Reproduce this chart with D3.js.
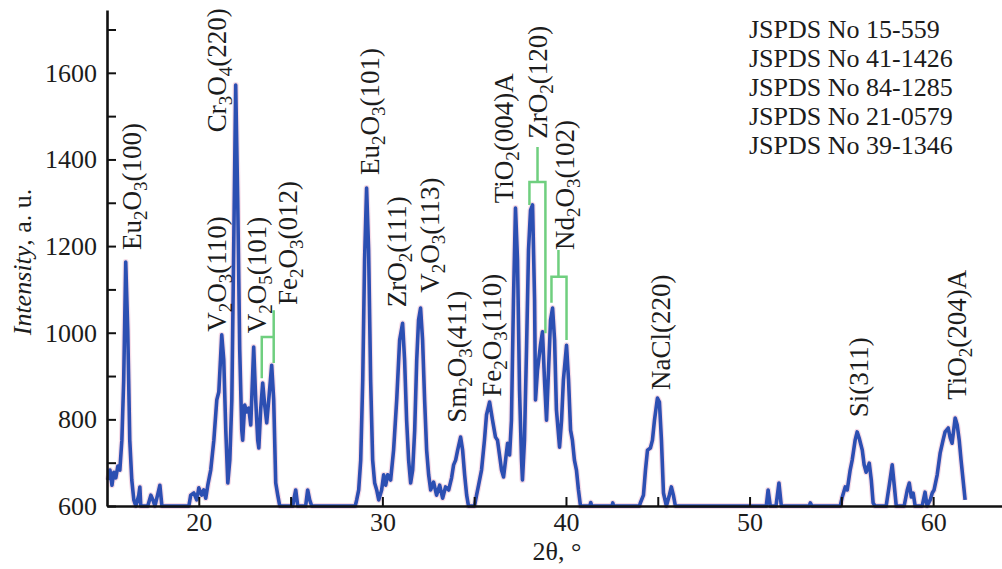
<!DOCTYPE html>
<html lang="en">
<head>
<meta charset="UTF-8">
<title>XRD pattern</title>
<script src="https://cdnjs.cloudflare.com/ajax/libs/d3/7.8.5/d3.min.js"></script>
<style>
  body { margin: 0; background: #fff; }
  text { font-family: "Liberation Serif", "Times New Roman", serif; fill: #1c1c1c; }
</style>
</head>
<body>
<script>
// diffraction pattern, [2theta, intensity]
var pattern = [
  [15.05,660],[15.16,683],[15.27,648],[15.37,678],[15.48,665],[15.59,692],[15.70,683],[15.81,752],[15.91,891],
  [16.02,1163],[16.13,1006],[16.24,752],[16.35,660],[16.46,614],[16.57,600],[16.73,625],[16.79,644],[16.84,600],
  [17.22,600],[17.39,625],[17.50,614],[17.61,600],[17.77,628],[17.88,648],[17.99,600],[19.46,600],[19.56,625],
  [19.73,630],[19.89,614],[20.00,642],[20.16,625],[20.27,637],[20.38,618],[20.49,648],[20.65,683],[20.82,752],
  [20.98,845],[21.09,863],[21.25,995],[21.36,937],[21.47,775],[21.58,653],[21.69,706],[21.80,845],[21.90,1191],
  [22.01,1572],[22.12,1306],[22.23,960],[22.34,775],[22.39,752],[22.50,833],[22.61,817],[22.72,826],[22.83,787],
  [22.99,967],[23.10,845],[23.21,752],[23.27,734],[23.37,822],[23.48,884],[23.59,833],[23.70,792],[23.81,845],
  [23.97,925],[24.08,845],[24.19,653],[24.30,625],[24.41,600],[25.12,600],[25.17,614],[25.28,637],[25.39,600],
  [25.82,600],[25.93,637],[26.04,614],[26.15,600],[28.52,600],[28.60,614],[28.71,637],[28.82,706],[28.93,891],
  [29.03,1168],[29.14,1334],
  [29.25,1191],[29.36,891],[29.47,706],[29.58,653],[29.69,637],[29.80,614],[29.96,637],[30.07,672],[30.18,648],
  [30.29,672],[30.45,660],[30.61,729],[30.78,845],[30.94,983],[31.10,1022],[31.21,937],[31.32,798],[31.43,706],
  [31.54,653],[31.65,683],[31.76,775],[31.87,937],[31.97,1029],[32.08,1057],[32.19,983],[32.30,845],[32.41,729],
  [32.52,672],[32.63,637],[32.79,655],[32.95,625],[33.12,648],[33.28,618],[33.44,644],[33.61,637],[33.77,665],
  [33.88,695],[33.99,706],[34.10,729],[34.26,759],[34.37,729],[34.48,672],[34.59,625],[34.69,600],[35.02,600],
  [35.13,625],[35.24,648],[35.40,683],[35.56,752],[35.67,810],[35.84,840],[36.00,798],[36.16,759],[36.27,752],
  [36.38,718],[36.49,683],[36.60,667],[36.71,706],[36.82,745],[36.93,718],[37.03,798],[37.14,1075],[37.25,1288],
  [37.36,1168],[37.47,868],[37.58,706],[37.63,660],[37.74,752],[37.85,960],[37.96,1191],[38.07,1283],[38.18,1295],
  [38.29,1075],[38.34,845],[38.45,914],[38.61,971],[38.72,1002],[38.83,891],[38.94,798],[39.05,914],[39.16,1029],
  [39.27,1057],[39.38,983],[39.48,822],[39.65,736],[39.76,798],[39.86,891],[40.03,971],[40.14,891],[40.25,775],
  [40.35,752],[40.46,706],[40.57,683],[40.68,637],[40.79,600],[41.30,600],[41.35,608],[41.40,600],[42.50,600],
  [42.55,607],[42.60,600],[44.00,600],[44.05,607],[44.22,625],[44.33,683],[44.44,729],[44.60,734],[44.71,752],
  [44.82,798],[44.98,849],[45.09,840],[45.20,752],[45.31,630],[45.47,600],[45.63,625],[45.74,644],[45.85,625],
  [45.96,600],[50.91,600],[51.01,637],[51.13,600],[51.44,600],[51.60,653],[51.73,600],[53.25,600],[53.31,607],
  [53.40,600],[54.94,600],[55.05,621],[55.21,644],[55.32,637],[55.48,683],[55.59,706],[55.75,752],[55.86,771],
  [55.97,757],[56.14,729],[56.24,695],[56.35,678],[56.52,699],[56.63,660],[56.73,607],[56.84,600],[57.44,600],
  [57.61,648],[57.77,695],[57.88,648],[57.99,600],[58.42,600],[58.59,637],[58.70,653],[58.81,621],[58.91,630],
  [59.02,600],[59.40,600],[59.56,632],[59.67,600],[59.84,614],[59.95,630],[60.05,637],[60.22,672],[60.38,722],
  [60.54,752],[60.65,771],[60.82,780],[60.93,757],[61.03,745],[61.20,803],[61.31,787],[61.42,752],[61.52,706],
  [61.63,660],[61.74,614]
];

// phase labels ("_" = subscript digit) and where each one starts, in [2theta, intensity]
var peakNames = ["Eu_2O_3(100)", "V_2O_3(110)", "Cr_3O_4(220)", "V_2O_5(101)", "Fe_2O_3(012)",
                 "Eu_2O_3(101)", "ZrO_2(111)", "V_2O_3(113)", "Sm_2O_3(411)", "Fe_2O_3(110)",
                 "TiO_2(004)A", "ZrO_2(120)", "Nd_2O_3(102)", "NaCl(220)", "Si(311)", "TiO_2(204)A"];
var peakAt = [[16.84,1191],[21.47,1002],[21.47,1463],[23.65,999],[25.33,1064],
              [29.80,1364],[31.27,1059],[33.06,1092],[34.53,792],[36.44,852],
              [37.14,1299],[38.94,1448],[40.46,1191],[45.69,868],[56.46,805],[61.80,845]];

// green brackets: stem [2theta, top], join level, feet [left 2theta, left end, right 2theta, right end]
var bracketStem = [[24.08,1052],[38.45,1429],[39.59,1191]];
var bracketJoin = [990, 1348, 1129];
var bracketFeet = [[23.43,895,24.08,930],[38.01,1295,38.88,999],[39.21,1069,40.03,983]];

var cards = ["JSPDS No 15-559", "JSPDS No 41-1426", "JSPDS No 84-1285", "JSPDS No 21-0579", "JSPDS No 39-1346"];

var xTicks = d3.range(20, 61, 5);
var yTicks = d3.range(600, 1701, 100);

var W = 1002, H = 569;
var padL = 107, padT = 10, axisY = 506, padR = 1002;

var svg = d3.select("body").append("svg")
    .attr("width", W)
    .attr("height", H);

var x = d3.scaleLinear().domain([15, 63.75]).range([padL, padR]);
var y = d3.scaleLinear().domain([600, 1745]).range([axisY, padT]);

var line = d3.line()
    .x(function(d) { return x(d[0]); })
    .y(function(d) { return y(d[1]); });

// faint pink fringe then the blue trace
svg.append("path")
    .attr("d", line(pattern))
    .attr("fill", "none")
    .attr("stroke", "#eec3d6")
    .attr("stroke-width", 6)
    .attr("stroke-linejoin", "round")
    .attr("opacity", 0.6);

svg.append("path")
    .attr("d", line(pattern))
    .attr("fill", "none")
    .attr("stroke", "#2c4fb2")
    .attr("stroke-width", 3.6)
    .attr("stroke-linejoin", "round");

// brackets
bracketStem.forEach(function(s, i) {
    var f = bracketFeet[i], j = y(bracketJoin[i]);
    var d = "M" + x(f[0]) + "," + y(f[1]) + "V" + j + "H" + x(f[2]) + "V" + y(f[3]) +
            "M" + x(s[0]) + "," + y(s[1]) + "V" + j;
    svg.append("path")
        .attr("d", d)
        .attr("fill", "none")
        .attr("stroke", "#6fcf7f")
        .attr("stroke-width", 2.5);
});

// chemical formula with subscripts
function chem(sel, str) {
    var parts = str.split(/(_\d)/).filter(function(s) { return s.length; });
    var low = false;
    parts.forEach(function(p) {
        if (p[0] === "_") {
            sel.append("tspan").attr("font-size", 19).attr("dy", low ? 0 : 6).text(p.slice(1));
            low = true;
        } else {
            sel.append("tspan").attr("dy", low ? -6 : 0).text(p);
            low = false;
        }
    });
}

peakNames.forEach(function(name, i) {
    var t = svg.append("text")
        .attr("transform", "translate(" + x(peakAt[i][0]) + "," + y(peakAt[i][1]) + ") rotate(-90)")
        .attr("font-size", 27);
    chem(t, name);
});

// axes, inward ticks
var xAxis = d3.axisBottom(x)
    .tickValues(xTicks)
    .tickSizeInner(-9)
    .tickSizeOuter(0)
    .tickPadding(7)
    .tickFormat(function(d) { return d % 10 === 0 ? d : ""; });

var yAxis = d3.axisLeft(y)
    .tickValues(yTicks)
    .tickSizeInner(-9)
    .tickSizeOuter(0)
    .tickPadding(10)
    .tickFormat(function(d) { return d % 200 === 0 ? d : ""; });

var gx = svg.append("g").attr("transform", "translate(0," + axisY + ")").call(xAxis);
var gy = svg.append("g").attr("transform", "translate(" + padL + ",0)").call(yAxis);

[gx, gy].forEach(function(g) {
    g.select(".domain").attr("stroke", "#111").attr("stroke-width", 2.6);
    g.selectAll(".tick line").attr("stroke", "#111").attr("stroke-width", 2);
    g.selectAll(".tick text")
        .attr("font-family", "Liberation Serif")
        .attr("font-size", 26)
        .attr("fill", "#1c1c1c");
});

// axis titles
svg.append("text")
    .attr("x", 557)
    .attr("y", 560)
    .attr("text-anchor", "middle")
    .attr("font-size", 26)
    .text("2θ, °");

var yt = svg.append("text")
    .attr("transform", "translate(31,262) rotate(-90)")
    .attr("text-anchor", "middle")
    .attr("font-size", 26);
yt.append("tspan").attr("font-style", "italic").text("Intensity");
yt.append("tspan").text(", a. u.");

// reference cards
svg.selectAll(".card")
    .data(cards)
    .enter().append("text")
    .attr("class", "card")
    .attr("x", 749)
    .attr("y", function(d, i) { return 38 + i * 29; })
    .attr("font-size", 26)
    .text(function(d) { return d; });
</script>
</body>
</html>
